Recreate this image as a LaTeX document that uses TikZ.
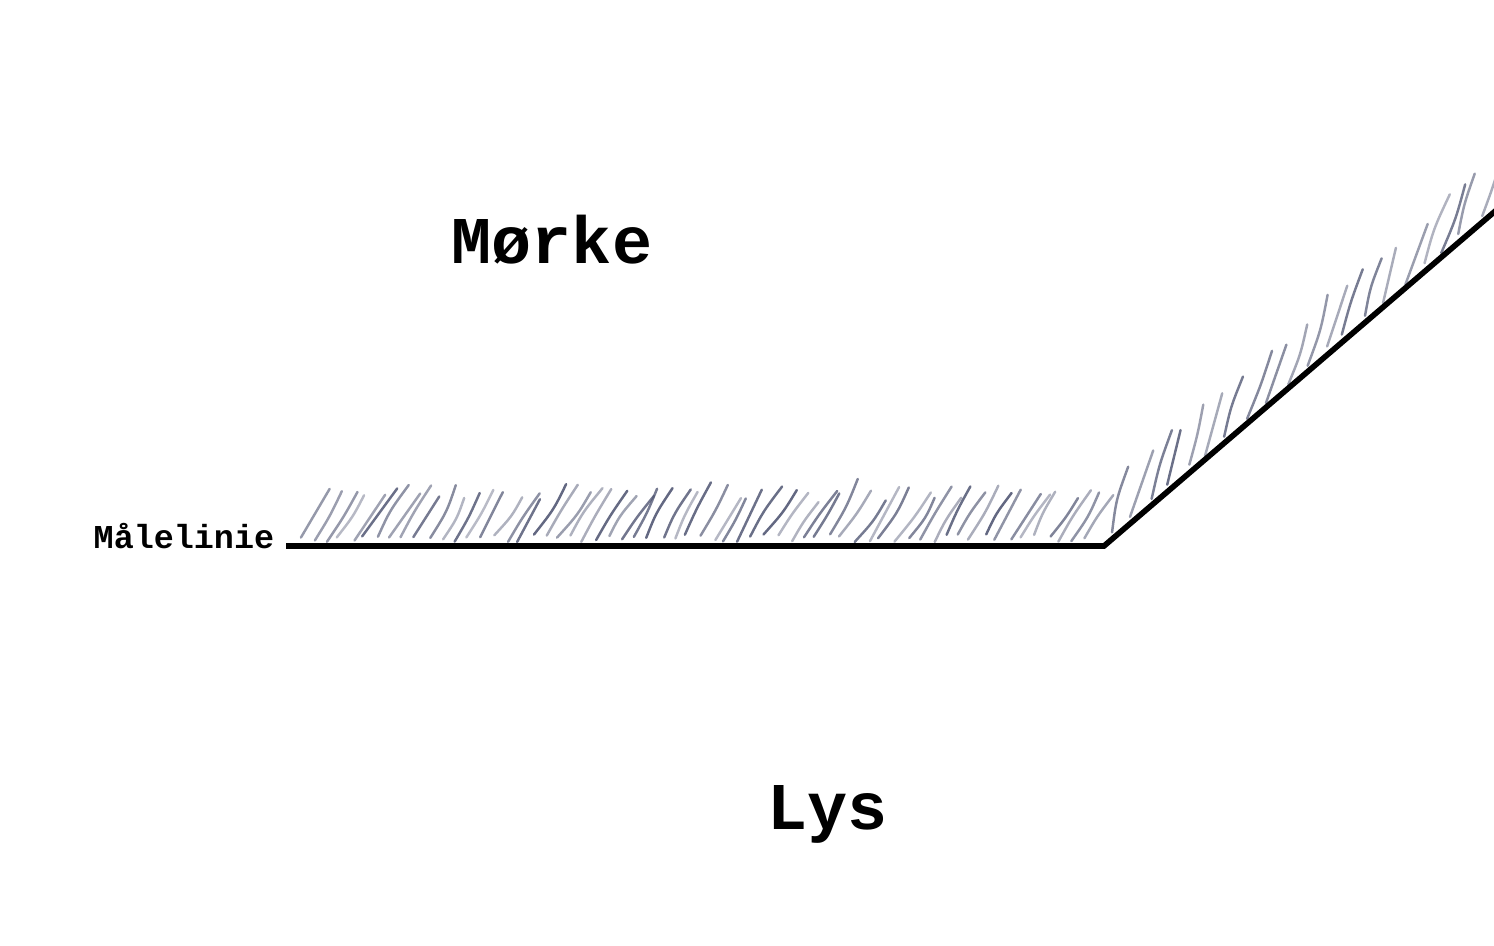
\documentclass[tikz,border=0pt]{standalone}
\usepackage{fontspec}
\newfontfamily\cour{Liberation Mono}
\begin{document}
\begin{tikzpicture}[x=0.01cm,y=-0.01cm,
  hatch/.style={line width=0.7pt,line cap=round,color={rgb,255:red,80;green,86;blue,115}},
  baseline/.style={line width=1.6pt,line join=miter,line cap=butt},
  bigtext/.style={font=\cour\bfseries\fontsize{19}{22}\selectfont,inner sep=0pt,anchor=base west},
  smalltext/.style={font=\cour\bfseries\fontsize{9.5}{12}\selectfont,inner sep=0pt,anchor=base west}]
\useasboundingbox (0,0) rectangle (1494,946);
\begin{scope}
\clip (0,0) rectangle (1494,946);
\pgfmathsetseed{4242}
% hatching above the horizontal part
\foreach \i in {0,...,61}{
  \pgfmathsetmacro\xx{300+\i*12.9+3*rand}
  \pgfmathsetmacro\yy{542-8*rnd}
  \pgfmathsetmacro\len{54+8*rand}
  \pgfmathsetmacro\ang{59+6*rand}
  \pgfmathsetmacro\op{0.4+0.5*rnd}
  \pgfmathsetmacro\bend{4*rand}
  \draw[hatch,draw opacity=\op] (\xx,\yy) .. controls +({\len*0.5*cos(\ang)+\bend},{-\len*0.5*sin(\ang)}) .. +({\len*cos(\ang)},{-\len*sin(\ang)});
}
% hatching above the slanted part
\foreach \i in {0,...,19}{
  \pgfmathsetmacro\xx{1110+\i*19.5+3*rand}
  \pgfmathsetmacro\yy{546-(\xx-1104)*0.857-3-6*rnd}
  \pgfmathsetmacro\len{64+10*rand}
  \pgfmathsetmacro\ang{73+4*rand}
  \pgfmathsetmacro\op{0.4+0.5*rnd}
  \pgfmathsetmacro\bend{4*rand}
  \draw[hatch,draw opacity=\op] (\xx,\yy) .. controls +({\len*0.5*cos(\ang)+\bend},{-\len*0.5*sin(\ang)}) .. +({\len*cos(\ang)},{-\len*sin(\ang)});
}
\coordinate (start) at (286,546);
\coordinate (corner) at (1104,546);
\coordinate (end) at (1500,207);
\draw[baseline] (start) -- (corner) -- (end);
\end{scope}
\node[bigtext] (morke) at (451,264) {Mørke};
\node[bigtext] (lys) at (767,829) {Lys};
\node[smalltext] (male) at (93,548) {Målelinie};
\end{tikzpicture}
\end{document}
